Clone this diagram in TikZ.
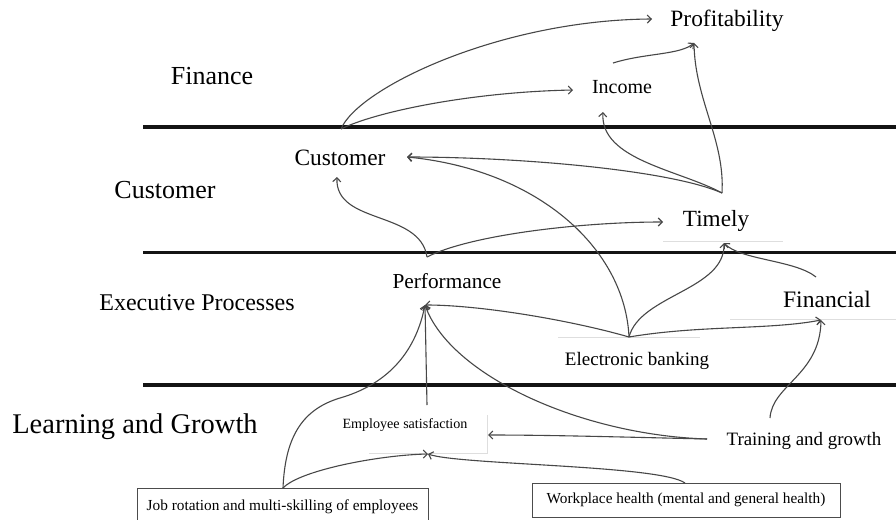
\documentclass[tikz,border=0pt]{standalone}
\usepackage{fontspec}
\setmainfont{Liberation Serif}
\usetikzlibrary{arrows.meta}
\newcommand{\myfs}[1]{\fontsize{#1}{#1}\selectfont}
\begin{document}
\begin{tikzpicture}[x=1pt,y=-1pt,
  lane/.style={line width=3.5pt, draw=black!92},
  conn/.style={line width=1.1pt, draw=black!72, -{Straight Barb[length=4pt,width=8pt]}},
  plain/.style={line width=1.1pt, draw=black!72},
  lbl/.style={inner sep=0pt, anchor=base, text=black},
  ghost/.style={draw=black!13, line width=0.8pt},
  box/.style={draw=black!70, line width=1pt, inner sep=0pt}]
\useasboundingbox (0,0) rectangle (896,519);
\fill[white] (0,0) rectangle (896,519);

% lane separators
\draw[lane] (143,127) -- (896,127);
\draw[lane] (143,252.5) -- (896,252.5);
\draw[lane] (143,385) -- (896,385);

% faint leftover edges
\draw[ghost] (663,241) -- (783,241);
\draw[ghost] (730,319) -- (896,319);
\draw[ghost] (558,337) -- (700,337);
\draw[ghost] (369,453) -- (487,453) -- (487,415);

% lane labels
\node[lbl, font=\myfs{26}] (finLab) at (212,84) {Finance};
\node[lbl, font=\myfs{26}] (cusLab) at (165,198) {Customer};
\node[lbl, font=\myfs{24}] (exeLab) at (197,310) {Executive Processes};
\node[lbl, font=\myfs{28.5}] (lgLab) at (135,433) {Learning and Growth};

% nodes
\node[lbl, font=\myfs{23.4}] (prof) at (727,27) {Profitability};
\node[lbl, font=\myfs{20}] (inc) at (622,93) {Income};
\node[lbl, font=\myfs{23.4}] (cus) at (340,165) {Customer};
\node[lbl, font=\myfs{23.2}] (tim) at (716,226) {Timely};
\node[lbl, font=\myfs{21.3}] (perf) at (447,288) {Performance};
\node[lbl, font=\myfs{23.6}] (fin) at (827,307) {Financial};
\node[lbl, font=\myfs{19}] (eb) at (637,365) {Electronic banking};
\node[lbl, font=\myfs{14.1}] (es) at (405,428) {Employee satisfaction};
\node[lbl, font=\myfs{18.9}] (tg) at (804,445) {Training and growth};
\node[box, font=\myfs{15.3}, minimum width=291pt, minimum height=38pt] (jr) at (282.5,507) {Job rotation and multi-skilling of employees};
\node[box, font=\myfs{15.3}, minimum width=308pt, minimum height=34pt] (wh) at (686,500) {Workplace health (mental and general health)};

% ports
\coordinate (cusTop) at (341,129);
\coordinate (profL) at (652,19);
\coordinate (profB) at (694,43);
\coordinate (incL) at (573,90);
\coordinate (incB) at (603,112);
\coordinate (incR) at (613,63);
\coordinate (timTop) at (722,193);
\coordinate (cusR) at (407,157);
\coordinate (cusB) at (337,177);
\coordinate (perfTop) at (427,257);
\coordinate (timL) at (663,222);
\coordinate (timB) at (724,243);
\coordinate (perfB) at (425,305);
\coordinate (ebTop) at (629,337);
\coordinate (finB) at (821,320);
\coordinate (finTopL) at (816,277);
\coordinate (tgTop) at (770,418);
\coordinate (tgL) at (707,439);
\coordinate (esR) at (488,435);
\coordinate (esT) at (427,405);
\coordinate (esB) at (428,454);
\coordinate (jrTop) at (283,488);
\coordinate (whTop) at (685,483);

% connectors
\draw[conn] (cusTop) .. controls (358,88) and (500,20) .. (profL);
\draw[conn] (cusTop) .. controls (375,112) and (470,92) .. (incL);
\draw[conn] (incR) .. controls (645,53) and (680,55) .. (profB);
\draw[conn] (timTop) .. controls (725,140) and (695,100) .. (profB);
\draw[conn] (timTop) .. controls (680,170) and (600,160) .. (incB);
\draw[conn] (timTop) .. controls (670,170) and (520,157) .. (cusR);
\draw[conn] (ebTop) .. controls (625,250) and (540,170) .. (cusR);
\draw[conn] (perfTop) .. controls (420,210) and (335,225) .. (cusB);
\draw[conn] (perfTop) .. controls (470,235) and (580,222) .. (timL);
\draw[conn] (ebTop) .. controls (570,320) and (480,305) .. (perfB);
\draw[conn] (ebTop) .. controls (640,295) and (725,290) .. (timB);
\draw[conn] (ebTop) .. controls (700,325) and (770,330) .. (finB);
\draw[conn] (finTopL) .. controls (795,260) and (740,260) .. (timB);
\draw[conn] (tgTop) .. controls (772,385) and (820,375) .. (finB);
\draw[conn] (tgL) .. controls (620,437) and (550,435) .. (esR);
\draw[conn] (tgL) .. controls (580,435) and (450,375) .. (perfB);
\draw[conn] (esT) -- (perfB);
\draw[conn] (jrTop) .. controls (285,440) and (300,410) .. (340,398) .. controls (385,385) and (415,355) .. (perfB);
\draw[conn] (jrTop) .. controls (300,470) and (380,455) .. (esB);
\draw[conn] (whTop) .. controls (660,465) and (460,465) .. (esB);
\end{tikzpicture}
\end{document}
